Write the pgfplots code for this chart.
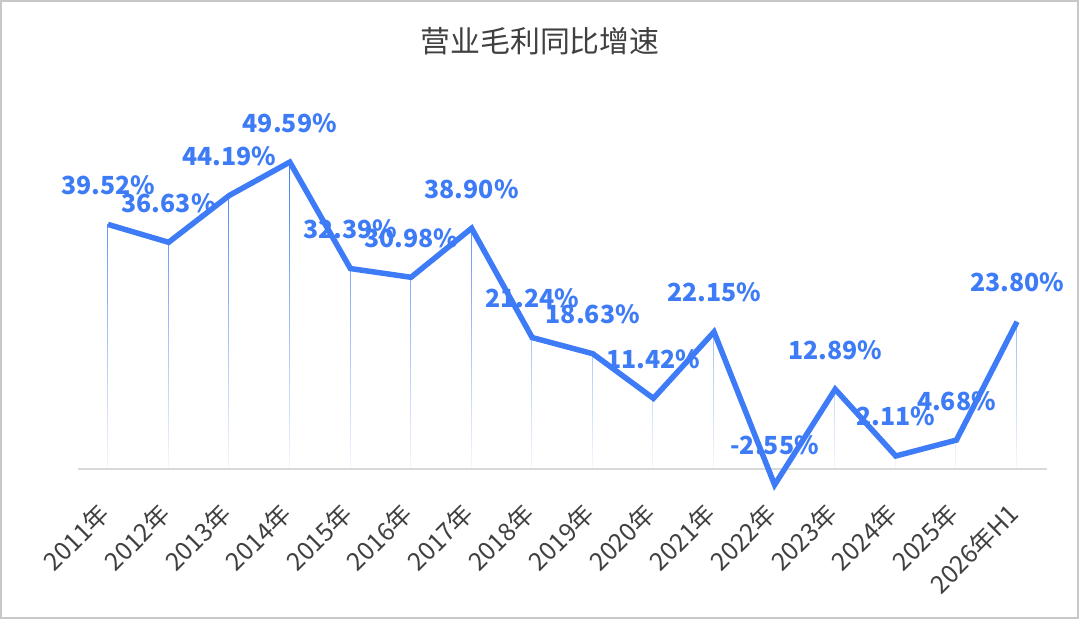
\documentclass[border=0pt]{standalone}
\usepackage{fontspec}
\setmainfont{Noto Sans CJK SC}
\usepackage{pgfplots}
\usepackage{pgfplotstable}
\pgfplotsset{compat=1.18}
\usetikzlibrary{fadings}

\definecolor{lineblue}{RGB}{61,123,247}
\definecolor{txtgray}{RGB}{64,64,64}
\definecolor{axisgray}{RGB}{217,217,217}
\definecolor{framegray}{RGB}{200,200,200}
\tikzfading[name=dropfade, top color=transparent!0, bottom color=transparent!100]

% 营业毛利同比增速 (%)
\pgfplotstableread{
x  y      lab
0  39.52  39.52
1  36.63  36.63
2  44.19  44.19
3  49.59  49.59
4  32.39  32.39
5  30.98  30.98
6  38.90  38.90
7  21.24  21.24
8  18.63  18.63
9  11.42  11.42
10 22.15  22.15
11 -2.55  -2.55
12 12.89  12.89
13 2.11   2.11
14 4.68   4.68
15 23.80  23.80
}\gmdata

\begin{document}
\begin{tikzpicture}
\useasboundingbox (0,0) rectangle (1080bp,636bp);
\fill[white] (0,0) rectangle (1080bp,636bp);
\draw[framegray, line width=2bp] (1bp,18bp) rectangle (1078bp,635bp);
\node[font=\fontsize{30}{30}\selectfont, text=txtgray] at (540bp,595bp) {营业毛利同比增速};

\begin{axis}[
  at={(77.7bp,136bp)}, anchor=south west,
  scale only axis, width=969.6bp, height=371.4bp,
  xmin=-0.5, xmax=15.5, ymin=-5, ymax=55,
  axis x line*=middle, axis y line=none,
  x axis line style={draw=axisgray, line width=1.5bp},
  xtick={0,...,15},
  xticklabels={2011年,2012年,2013年,2014年,2015年,2016年,2017年,2018年,2019年,2020年,2021年,2022年,2023年,2024年,2025年,2026年H1},
  ytick=\empty,
  major tick length=0pt,
  xticklabel style={font=\fontsize{25}{25}\selectfont, text=txtgray,
                    xshift=-3bp, yshift=-40bp, rotate=45, anchor=east, inner sep=0pt},
  clip=false,
]
% drop lines
\addplot[ycomb, draw=lineblue, line width=1bp, mark=none, path fading=dropfade]
  table[x=x, y=y]{\gmdata};
% data labels (under the line)
\addplot[draw=none, mark=none, point meta=explicit symbolic,
  nodes near coords={\pgfplotspointmeta\%},
  nodes near coords style={font=\bfseries\fontsize{25}{25}\selectfont, text=lineblue,
                           anchor=base, yshift=30bp, inner sep=0pt}]
  table[x=x, y=y, meta=lab]{\gmdata};
% main line
\addplot[lineblue, line width=5.5bp, line join=miter, mark=none]
  table[x=x, y=y]{\gmdata};
\end{axis}
\end{tikzpicture}
\end{document}
